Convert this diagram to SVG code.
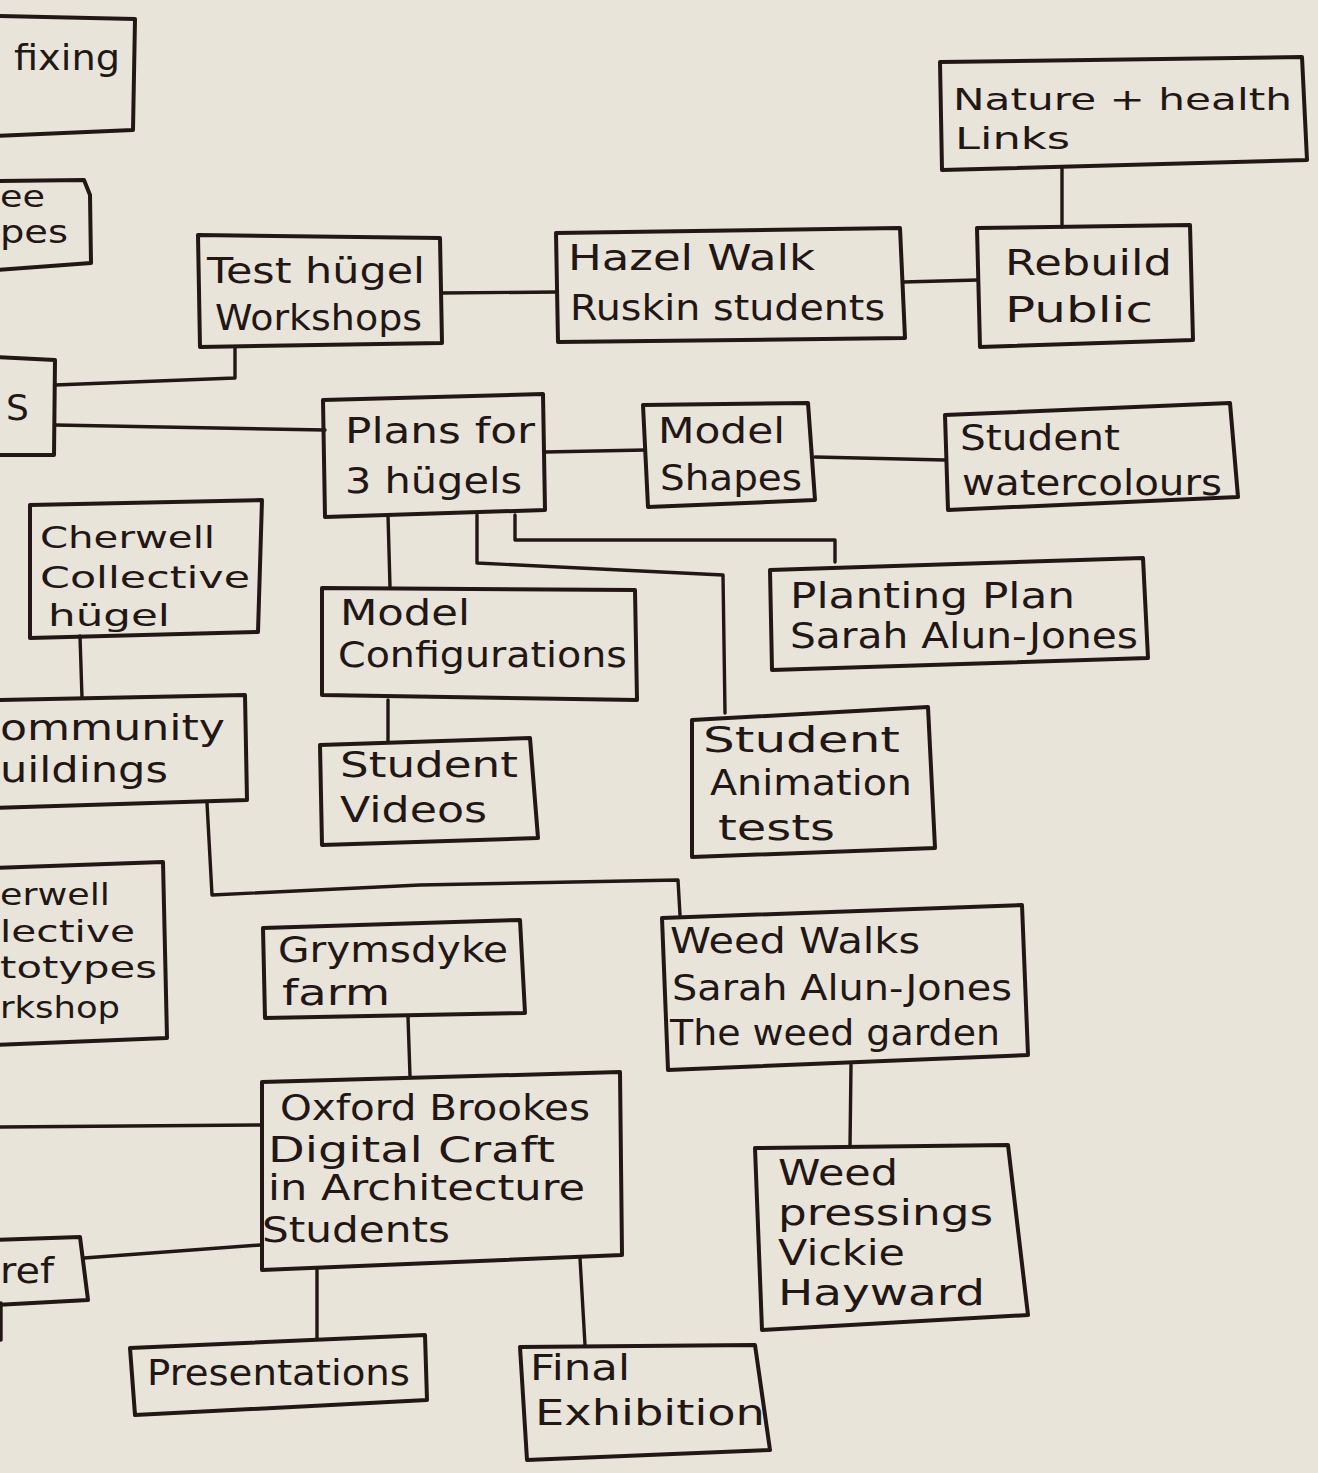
<svg xmlns="http://www.w3.org/2000/svg" width="1318" height="1473" viewBox="0 0 1318 1473">
<style>
.bg{fill:#E8E4DA}
.b{fill:none;stroke:#221714;stroke-width:4;stroke-linejoin:round;stroke-linecap:round}
.c{fill:none;stroke:#221714;stroke-width:3.4;stroke-linejoin:round;stroke-linecap:round}
.t{font-family:"DejaVu Sans","Liberation Sans",sans-serif;font-size:36px;fill:#221714}
.s{font-size:31px}
</style>
<rect class="bg" x="0" y="0" width="1318" height="1473"/>
<g id="connectors">
<path class="c" d="M55 385 L235 378 L235 347"/>
<path class="c" d="M55 425 L325 430"/>
<path class="c" d="M442 293 L557 292"/>
<path class="c" d="M903 282 L978 280"/>
<path class="c" d="M1062 168 L1062 227"/>
<path class="c" d="M545 452 L645 450"/>
<path class="c" d="M815 457 L945 460"/>
<path class="c" d="M388 515 L390 587"/>
<path class="c" d="M477 515 L477 563 L723 575 L725 713"/>
<path class="c" d="M515 515 L515 540 L835 540 L835 562"/>
<path class="c" d="M388 700 L388 742"/>
<path class="c" d="M80 636 L82 698"/>
<path class="c" d="M207 803 L212 895 L420 885 L678 880 L680 915"/>
<path class="c" d="M408 1017 L410 1076"/>
<path class="c" d="M-5 1127 L262 1125"/>
<path class="c" d="M84 1258 L260 1245"/>
<path class="c" d="M317 1268 L317 1338"/>
<path class="c" d="M580 1258 L585 1345"/>
<path class="c" d="M851 1065 L850 1147"/>
<path class="c" d="M1 1303 L1 1340"/>
</g>
<g id="n-fixing"><path class="b" d="M-5 16 L135 19 L133 130 L-5 136"/><text class="t" x="14" y="70" textLength="106" lengthAdjust="spacingAndGlyphs">fixing</text></g>
<g id="n-pes"><path class="b" d="M-5 181 L84 180 L90 195 L91 263 L-5 270"/><text class="t" x="0" y="207" textLength="45" lengthAdjust="spacingAndGlyphs" style="font-size:30px">ee</text><text class="t" x="0" y="243" textLength="68" lengthAdjust="spacingAndGlyphs" style="font-size:32px">pes</text></g>
<g id="n-s"><path class="b" d="M-5 357 L55 360 L54 455 L-5 455"/><text class="t" x="6" y="420">S</text></g>
<g id="n-test"><path class="b" d="M198 235 L440 238 L442 343 L200 347 Z"/><text class="t" x="207" y="283" textLength="218" lengthAdjust="spacingAndGlyphs">Test hügel</text><text class="t" x="215" y="330" textLength="207" lengthAdjust="spacingAndGlyphs">Workshops</text></g>
<g id="n-hazel"><path class="b" d="M556 233 L900 228 L905 338 L558 342 Z"/><text class="t" x="568" y="270" textLength="247" lengthAdjust="spacingAndGlyphs">Hazel Walk</text><text class="t" x="570" y="320" textLength="315" lengthAdjust="spacingAndGlyphs">Ruskin students</text></g>
<g id="n-rebuild"><path class="b" d="M977 228 L1190 225 L1193 340 L980 347 Z"/><text class="t" x="1005" y="275" textLength="167" lengthAdjust="spacingAndGlyphs">Rebuild</text><text class="t" x="1005" y="322" textLength="148" lengthAdjust="spacingAndGlyphs">Public</text></g>
<g id="n-nature"><path class="b" d="M940 62 L1302 57 L1307 160 L942 170 Z"/><text class="t s" x="953" y="110" textLength="339" lengthAdjust="spacingAndGlyphs">Nature + health</text><text class="t s" x="955" y="149" textLength="115" lengthAdjust="spacingAndGlyphs">Links</text></g>
<g id="n-plans"><path class="b" d="M323 400 L543 394 L545 510 L325 517 Z"/><text class="t" x="345" y="443" textLength="190" lengthAdjust="spacingAndGlyphs">Plans for</text><text class="t" x="345" y="493" textLength="177" lengthAdjust="spacingAndGlyphs">3 hügels</text></g>
<g id="n-modelshapes"><path class="b" d="M643 405 L808 403 L815 500 L648 507 Z"/><text class="t" x="658" y="443" textLength="127" lengthAdjust="spacingAndGlyphs">Model</text><text class="t" x="660" y="490" textLength="142" lengthAdjust="spacingAndGlyphs">Shapes</text></g>
<g id="n-watercolours"><path class="b" d="M945 415 L1230 403 L1238 497 L948 510 Z"/><text class="t" x="960" y="450" textLength="160" lengthAdjust="spacingAndGlyphs">Student</text><text class="t" x="962" y="495" textLength="260" lengthAdjust="spacingAndGlyphs">watercolours</text></g>
<g id="n-planting"><path class="b" d="M770 570 L1143 558 L1148 658 L772 670 Z"/><text class="t" x="790" y="608" textLength="285" lengthAdjust="spacingAndGlyphs">Planting Plan</text><text class="t" x="790" y="648" textLength="348" lengthAdjust="spacingAndGlyphs">Sarah Alun-Jones</text></g>
<g id="n-modelconfig"><path class="b" d="M322 588 L635 590 L637 700 L322 695 Z"/><text class="t" x="340" y="625" textLength="130" lengthAdjust="spacingAndGlyphs">Model</text><text class="t" x="338" y="667" textLength="289" lengthAdjust="spacingAndGlyphs">Configurations</text></g>
<g id="n-animation"><path class="b" d="M692 720 L928 707 L935 848 L692 857 Z"/><text class="t" x="703" y="752" textLength="197" lengthAdjust="spacingAndGlyphs">Student</text><text class="t" x="710" y="795" textLength="202" lengthAdjust="spacingAndGlyphs">Animation</text><text class="t" x="718" y="840" textLength="117" lengthAdjust="spacingAndGlyphs">tests</text></g>
<g id="n-videos"><path class="b" d="M320 745 L530 738 L538 838 L322 845 Z"/><text class="t" x="340" y="777" textLength="178" lengthAdjust="spacingAndGlyphs">Student</text><text class="t" x="340" y="822" textLength="147" lengthAdjust="spacingAndGlyphs">Videos</text></g>
<g id="n-cherwell"><path class="b" d="M30 505 L262 500 L258 632 L30 638 Z"/><text class="t s" x="40" y="548" textLength="175" lengthAdjust="spacingAndGlyphs">Cherwell</text><text class="t s" x="40" y="588" textLength="210" lengthAdjust="spacingAndGlyphs">Collective</text><text class="t s" x="48" y="626" textLength="122" lengthAdjust="spacingAndGlyphs">hügel</text></g>
<g id="n-community"><path class="b" d="M-5 700 L245 695 L247 800 L-5 808"/><text class="t" x="0" y="740" textLength="225" lengthAdjust="spacingAndGlyphs">ommunity</text><text class="t" x="0" y="782" textLength="168" lengthAdjust="spacingAndGlyphs">uildings</text></g>
<g id="n-prototypes"><path class="b" d="M-5 868 L163 862 L167 1038 L-5 1045"/><text class="t s" x="0" y="905" textLength="110" lengthAdjust="spacingAndGlyphs">erwell</text><text class="t s" x="0" y="942" textLength="135" lengthAdjust="spacingAndGlyphs">lective</text><text class="t s" x="0" y="978" textLength="157" lengthAdjust="spacingAndGlyphs">totypes</text><text class="t s" x="0" y="1018" textLength="120" lengthAdjust="spacingAndGlyphs">rkshop</text></g>
<g id="n-grymsdyke"><path class="b" d="M263 928 L520 920 L525 1013 L265 1018 Z"/><text class="t" x="278" y="962" textLength="230" lengthAdjust="spacingAndGlyphs">Grymsdyke</text><text class="t" x="282" y="1005" textLength="108" lengthAdjust="spacingAndGlyphs">farm</text></g>
<g id="n-oxford"><path class="b" d="M262 1082 L620 1072 L622 1255 L262 1270 Z"/><text class="t" x="280" y="1120" textLength="310" lengthAdjust="spacingAndGlyphs">Oxford Brookes</text><text class="t" x="268" y="1162" textLength="287" lengthAdjust="spacingAndGlyphs">Digital Craft</text><text class="t" x="268" y="1200" textLength="317" lengthAdjust="spacingAndGlyphs">in Architecture</text><text class="t" x="262" y="1242" textLength="188" lengthAdjust="spacingAndGlyphs">Students</text></g>
<g id="n-ref"><path class="b" d="M-5 1240 L80 1237 L88 1300 L-5 1305"/><text class="t" x="0" y="1283" textLength="54" lengthAdjust="spacingAndGlyphs">ref</text></g>
<g id="n-presentations"><path class="b" d="M130 1348 L425 1335 L427 1400 L135 1415 Z"/><text class="t" x="147" y="1385" textLength="263" lengthAdjust="spacingAndGlyphs">Presentations</text></g>
<g id="n-final"><path class="b" d="M520 1347 L755 1345 L770 1450 L527 1460 Z"/><text class="t" x="530" y="1380" textLength="100" lengthAdjust="spacingAndGlyphs">Final</text><text class="t" x="535" y="1425" textLength="230" lengthAdjust="spacingAndGlyphs">Exhibition</text></g>
<g id="n-weedwalks"><path class="b" d="M662 918 L1022 905 L1028 1055 L668 1070 Z"/><text class="t" x="670" y="953" textLength="250" lengthAdjust="spacingAndGlyphs">Weed Walks</text><text class="t" x="672" y="1000" textLength="340" lengthAdjust="spacingAndGlyphs">Sarah Alun-Jones</text><text class="t" x="670" y="1045" textLength="330" lengthAdjust="spacingAndGlyphs">The weed garden</text></g>
<g id="n-pressings"><path class="b" d="M755 1148 L1008 1145 L1028 1315 L762 1330 Z"/><text class="t" x="778" y="1185" textLength="120" lengthAdjust="spacingAndGlyphs">Weed</text><text class="t" x="778" y="1225" textLength="215" lengthAdjust="spacingAndGlyphs">pressings</text><text class="t" x="778" y="1265" textLength="127" lengthAdjust="spacingAndGlyphs">Vickie</text><text class="t" x="778" y="1305" textLength="207" lengthAdjust="spacingAndGlyphs">Hayward</text></g>
</svg>
